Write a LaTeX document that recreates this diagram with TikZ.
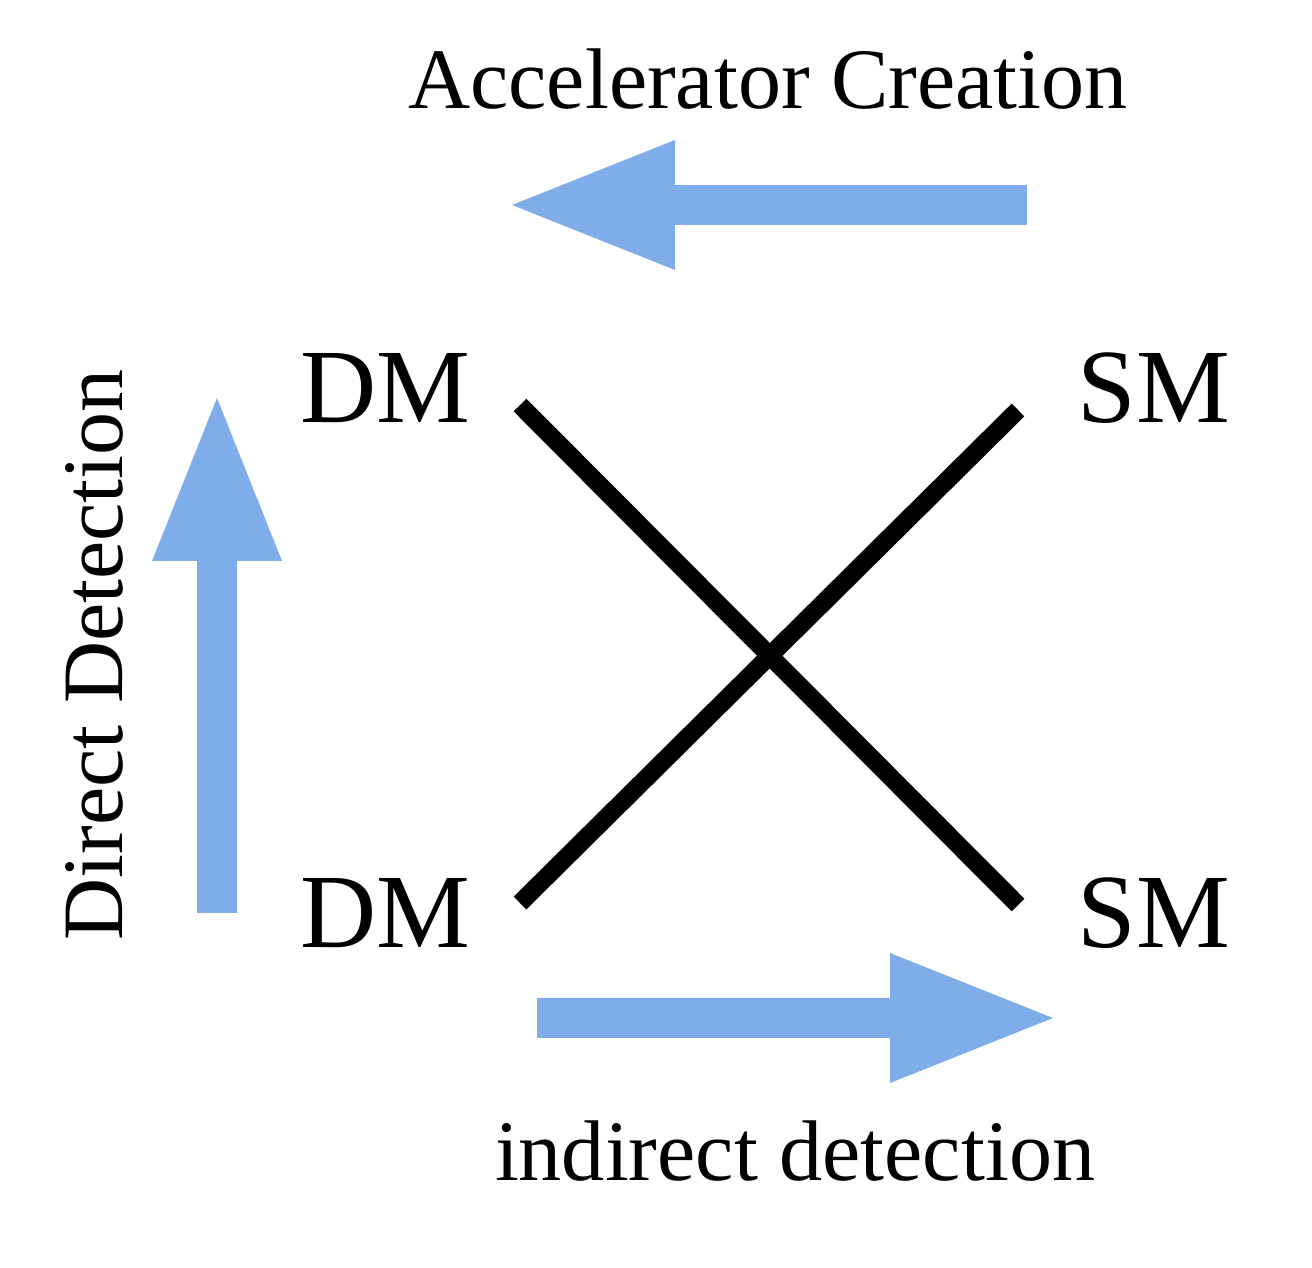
\documentclass[tikz,border=0pt]{standalone}
\usepackage{fontspec}
\setmainfont{Liberation Serif}
\usetikzlibrary{positioning, arrows.meta}
\definecolor{mBlue}{HTML}{7FADEA}

\begin{document}
\begin{tikzpicture}[x=0.02cm, y=-0.02cm,
  caption/.style={font=\fontsize{49}{58}\selectfont, anchor=base, inner sep=0pt},
  term/.style={font=\fontsize{60}{70}\selectfont, anchor=base, inner sep=0pt},
  flow/.style={draw=mBlue, line width=0.8cm,
    -{Triangle[length=3.26cm, width=2.6cm, line width=0pt]}},
  cross/.style={draw=black, line width=0.36cm},
]
  \useasboundingbox (0,0) rectangle (1312,1268);

  % the four corners
  \node[term] (dmT) at (385,422) {DM};
  \node[term] (smT) at (1154,422) {SM};
  \node[term] (dmB) at (385,947) {DM};
  \node[term] (smB) at (1154,947) {SM};

  % captions
  \node[caption] (acc) at (768,108) {Accelerator Creation};
  \node[caption, rotate=90] (dd) at (122,655) {Direct Detection};
  \node[caption] (ind) at (795,1180) {indirect detection};

  % arrow ends
  \coordinate (accR) at (1027,205);
  \coordinate (accL) at (512,205);
  \coordinate (ddB) at (217,913);
  \coordinate (ddT) at (217,398);
  \coordinate (indL) at (537,1018);
  \coordinate (indR) at (1053,1018);

  \draw[flow] (accR) -- (accL);
  \draw[flow] (ddB) -- (ddT);
  \draw[flow] (indL) -- (indR);

  % the cross
  \coordinate (xa) at (520,405);
  \coordinate (xb) at (1018,905);
  \coordinate (xc) at (520,903);
  \coordinate (xd) at (1018,410);
  \draw[cross] (xa) -- (xb);
  \draw[cross] (xc) -- (xd);
\end{tikzpicture}
\end{document}
